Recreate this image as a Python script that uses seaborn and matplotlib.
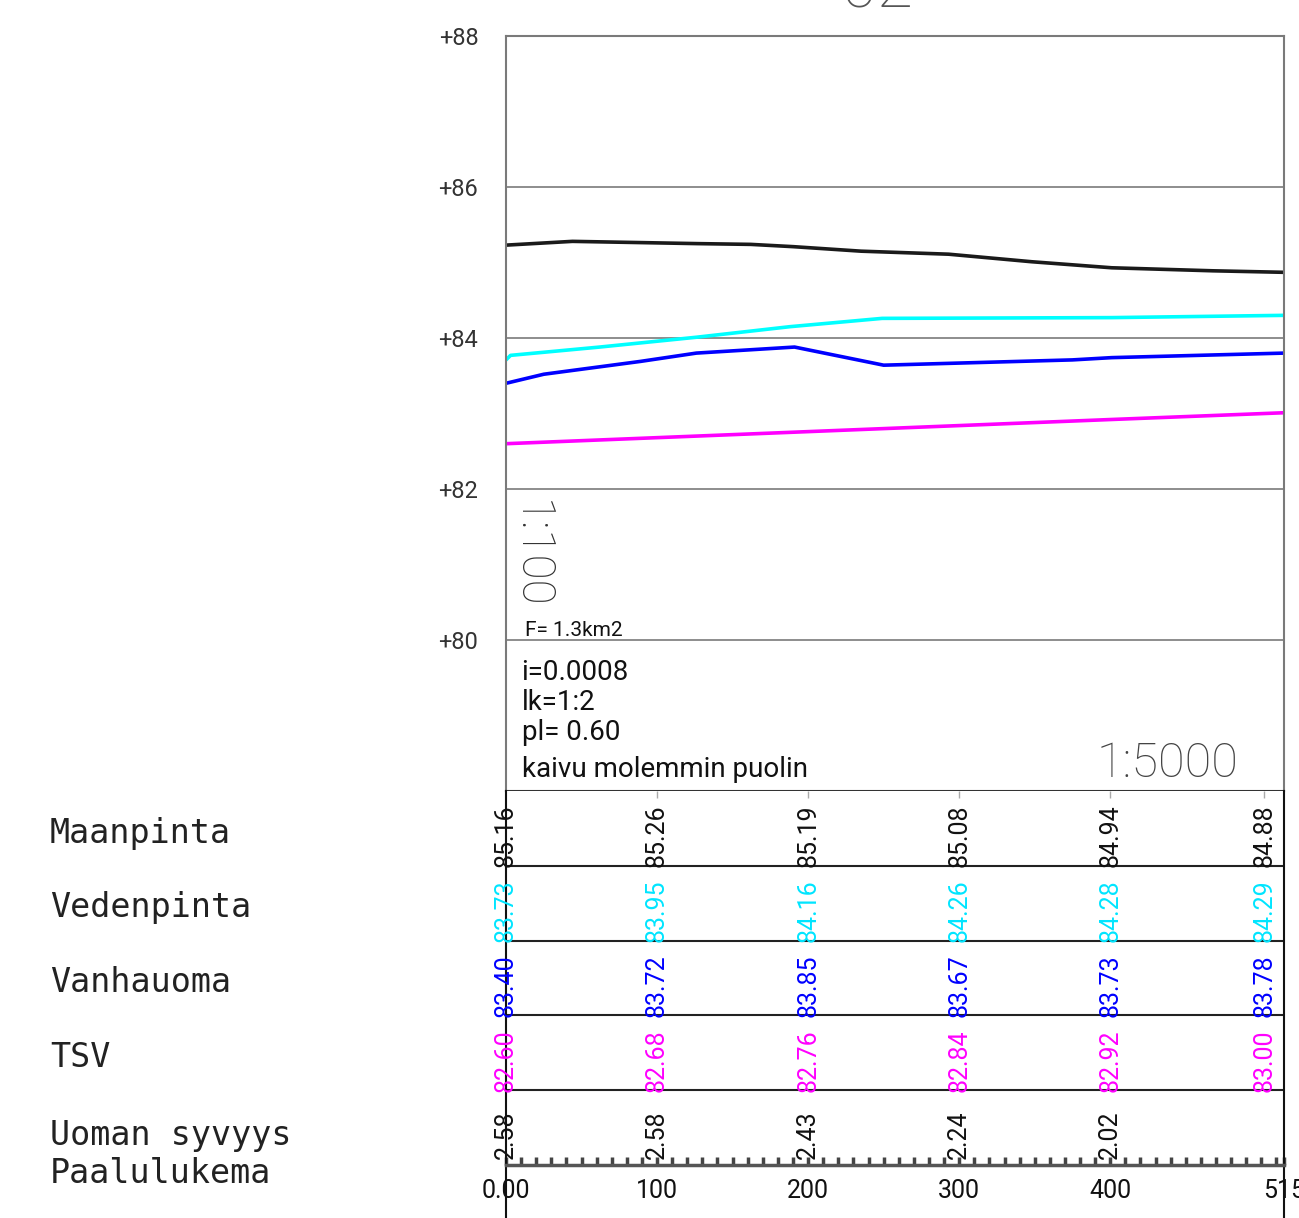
import matplotlib
matplotlib.use("Agg")
import matplotlib.pyplot as plt
import matplotlib.transforms as mtransforms
import pandas as pd
import seaborn as sns

# profile lines (station m, elevation m)
ground_x = [0, 44, 127, 162, 190, 235, 293, 348, 401, 468, 515]
ground_z = [85.23, 85.28, 85.25, 85.24, 85.21, 85.15, 85.11, 85.01, 84.93, 84.89, 84.87]
water_x = [0, 3, 62, 126, 188, 249, 401, 515]
water_z = [83.71, 83.77, 83.88, 84.01, 84.15, 84.26, 84.27, 84.30]
old_x = [0, 25, 89, 126, 191, 250, 375, 401, 515]
old_z = [83.40, 83.52, 83.69, 83.80, 83.88, 83.64, 83.71, 83.74, 83.80]
tsv_x = [0, 100, 200, 300, 400, 515]
tsv_z = [82.60, 82.68, 82.76, 82.84, 82.92, 83.01]

# table below the profile
stations = [0, 100, 200, 300, 400, 515]
maanpinta = [85.16, 85.26, 85.19, 85.08, 84.94, 84.88]
vedenpinta = [83.73, 83.95, 84.16, 84.26, 84.28, 84.29]
vanhauoma = [83.40, 83.72, 83.85, 83.67, 83.73, 83.78]
tsv = [82.60, 82.68, 82.76, 82.84, 82.92, 83.00]
syvyys = [2.58, 2.58, 2.43, 2.24, 2.02, None]

row_names = ["Maanpinta", "Vedenpinta", "Vanhauoma", "TSV", "Uoman syvyys"]
elev_ticks = [80, 82, 84, 86, 88]
station_ticks = [0, 100, 200, 300, 400, 515]
station_labels = ["0.00", "100", "200", "300", "400", "515"]

colors = {"Maanpinta": "#1a1a1a", "Vedenpinta": "#00ffff",
          "Vanhauoma": "#0000ff", "TSV": "#ff00ff"}

sns.set_style("white")
plt.rcParams["font.family"] = ["Roboto", "DejaVu Sans"]

fig = plt.figure(figsize=(12.99, 12.18), dpi=100)
W, H = 1299, 1218
ax = fig.add_axes([506 / W, 1 - 791 / H, 778 / W, 755 / H])
ax_t = fig.add_axes([506 / W, 1 - 1165 / H, 778 / W, 374 / H], sharex=ax)

frames = []
for name, xs, zs in [("Maanpinta", ground_x, ground_z), ("Vedenpinta", water_x, water_z),
                     ("Vanhauoma", old_x, old_z), ("TSV", tsv_x, tsv_z)]:
    frames.append(pd.DataFrame({"station": xs, "elev": zs, "series": name}))
df = pd.concat(frames, ignore_index=True)

sns.lineplot(data=df, x="station", y="elev", hue="series", palette=colors,
             estimator=None, sort=False, legend=False, linewidth=2.6, ax=ax)

ax.set_xlim(0, 515)
ax.set_ylim(78, 88)
ax.set_yticks(elev_ticks)
ax.set_yticklabels([f"+{v}" for v in elev_ticks], fontsize=17, color="#333333")
ax.tick_params(axis="y", length=0, pad=20)
ax.tick_params(axis="x", length=0, labelbottom=False)
ax.set_xlabel("")
ax.set_ylabel("")
ax.grid(axis="y", color="#7a7a7a", linewidth=1.2)
ax.grid(axis="x", visible=False)
for side in ["top", "left", "right"]:
    ax.spines[side].set_color("#7a7a7a")
    ax.spines[side].set_linewidth(1.5)
ax.spines["bottom"].set_color("#333333")
ax.spines["bottom"].set_linewidth(1.5)

# notes inside the profile
ax.text(0.004, 0.385, "1:100", transform=ax.transAxes, rotation=270, fontsize=33,
        fontweight="light", color="#333333", ha="left", va="top")
ax.text(0.025, 0.205, "F= 1.3km2", transform=ax.transAxes, fontsize=15, color="#111111")
notes = ["i=0.0008", "lk=1:2", "pl= 0.60", "kaivu molemmin puolin"]
for s, yy in zip(notes, [0.147, 0.107, 0.068, 0.019]):
    ax.text(0.02, yy, s, transform=ax.transAxes, fontsize=20, color="#111111")
ax.text(0.942, 0.005, "1:5000", transform=ax.transAxes, fontsize=35, fontweight="light",
        color="#444444", ha="right", va="bottom")

# cut-off title at the very top
fig.text(877 / W, 1 - 8 / H, "02", fontsize=48, fontweight="light", color="#555555",
         ha="center", va="baseline")

# table
ax_t.set_ylim(0, 5)
ax_t.set_yticks([])
ax_t.hlines([1, 2, 3, 4], 0, 515, color="#222222", linewidth=1.5)
label_x = [min(s, 502) for s in stations]  # last column pulled inside the frame
ax_t.vlines(label_x[1:], 4.9, 5, color="#aaaaaa", linewidth=1)

rows = [maanpinta, vedenpinta, vanhauoma, tsv, syvyys]
row_colors = ["#111111", "#00e5ff", "#0000ff", "#ff00ff", "#111111"]
for r, (vals, c) in enumerate(zip(rows, row_colors)):
    bottom = 4 - r
    for x, v in zip(label_x, vals):
        if v is None:
            continue
        ax_t.text(x, bottom + 0.4, f"{v:.2f}", rotation=90, ha="center", va="center",
                  fontsize=18, color=c)

trans = mtransforms.blended_transform_factory(fig.transFigure, ax_t.transData)
name_y = [4.31, 3.31, 2.31, 1.31, 0.27]
for name, yy in zip(row_names, name_y):
    ax_t.text(50 / W, yy, name, transform=trans, fontsize=24, family="DejaVu Sans Mono",
              color="#222222", va="baseline", clip_on=False)
ax_t.text(50 / W, -0.24, "Paalulukema", transform=trans, fontsize=24,
          family="DejaVu Sans Mono", color="#222222", va="baseline", clip_on=False)

ax_t.set_xticks(station_ticks)
ax_t.set_xticklabels(station_labels, fontsize=18, color="#111111")
ax_t.set_xticks(list(range(0, 516, 10)), minor=True)
ax_t.tick_params(axis="x", which="both", direction="in", length=6, width=2.5,
                 color="#444444", bottom=True, pad=10)
ax_t.set_xlabel("")
ax_t.spines["top"].set_visible(False)
ax_t.spines["bottom"].set_color("#555555")
ax_t.spines["bottom"].set_linewidth(2.5)
for side in ["left", "right"]:
    ax_t.spines[side].set_color("#111111")
    ax_t.spines[side].set_linewidth(1.5)
ext = 53 / 374
ax_t.axvline(0, ymin=-ext, ymax=0, color="#111111", linewidth=1.5, clip_on=False)
ax_t.axvline(515, ymin=-ext, ymax=0, color="#111111", linewidth=1.5, clip_on=False)

fig.savefig("out.png", dpi=100)
